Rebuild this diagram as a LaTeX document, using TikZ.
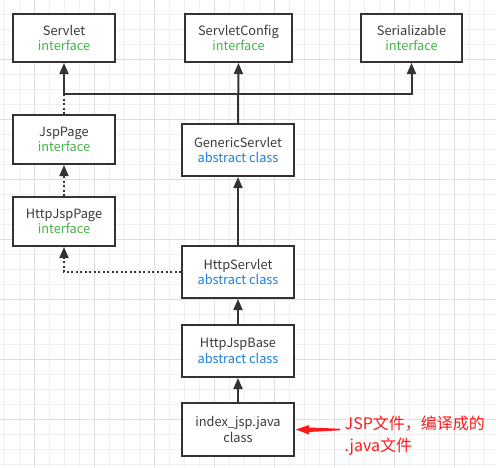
\documentclass[tikz,border=0pt]{standalone}
\usepackage{fontspec}
\setmainfont{Noto Sans CJK SC}
\usetikzlibrary{arrows.meta}
\definecolor{gridl}{HTML}{F0F0F0}
\definecolor{gridd}{HTML}{DEDEDE}
\definecolor{ifgreen}{HTML}{44B549}
\definecolor{abblue}{HTML}{1A7FE0}
\definecolor{boxline}{HTML}{333333}
\definecolor{txt}{HTML}{3A3A3A}
\definecolor{notered}{HTML}{FF1A1A}
\begin{document}
\begin{tikzpicture}[x=1pt,y=-1pt,
  box/.style={draw=boxline, line width=2pt, fill=white, align=center,
    font=\fontsize{12.8}{15.3}\selectfont, text=txt, inner sep=0pt},
  inh/.style={draw=boxline, line width=2pt, -{Triangle[length=11pt,width=9pt]}},
  dots/.style={draw=boxline, line width=2pt, dash pattern=on 2pt off 2.5pt},
  dotinh/.style={dots, -{Triangle[length=11pt,width=9pt]}},
]
\useasboundingbox (0,0) rectangle (496,467);
\fill[white] (0,0) rectangle (496,467);
% grid
\foreach \x in {4,19,...,496} \draw[gridl, line width=1pt] (\x,0) -- (\x,467);
\foreach \y in {14,29,...,467} \draw[gridl, line width=1pt] (0,\y) -- (496,\y);
\foreach \x in {34,94,...,496} \draw[gridd, line width=1pt] (\x,0) -- (\x,467);
\foreach \y in {59,119,...,467} \draw[gridd, line width=1pt] (0,\y) -- (496,\y);

% boxes
\node[box, minimum width=102pt, minimum height=48pt] (servlet) at (64,38)
  {Servlet\\\textcolor{ifgreen}{interface}};
\node[box, minimum width=107pt, minimum height=48pt] (config) at (238.5,38)
  {ServletConfig\\\textcolor{ifgreen}{interface}};
\node[box, minimum width=101pt, minimum height=48pt] (serial) at (411.5,38)
  {Serializable\\\textcolor{ifgreen}{interface}};
\node[box, minimum width=102pt, minimum height=49pt] (jsppage) at (64,139.5)
  {JspPage\\\textcolor{ifgreen}{interface}};
\node[box, minimum width=102pt, minimum height=49pt] (httpjsppage) at (64,221.5)
  {HttpJspPage\\\textcolor{ifgreen}{interface}};
\node[box, minimum width=112pt, minimum height=52pt] (generic) at (238,150)
  {GenericServlet\\\textcolor{abblue}{abstract class}};
\node[box, minimum width=112pt, minimum height=52pt] (httpservlet) at (238,272)
  {HttpServlet\\\textcolor{abblue}{abstract class}};
\node[box, minimum width=112pt, minimum height=52pt] (httpjspbase) at (238,351)
  {HttpJspBase\\\textcolor{abblue}{abstract class}};
\node[box, minimum width=112pt, minimum height=53pt] (index) at (238,429.5)
  {index\_jsp.java\\class};

% junction
\coordinate (j) at (238,94);
\coordinate (jl) at (64,94);

% connectors
\draw[inh] (generic.north) -- (config.south);
\draw[inh] (j) -| (servlet.south);
\draw[inh] (j) -| (serial.south);
\draw[dots] (jsppage.north) -- (jl);
\draw[dotinh] (httpjsppage.north) -- (jsppage.south);
\draw[dotinh] (httpservlet.west) -| (httpjsppage.south);
\draw[inh] (httpservlet.north) -- (generic.south);
\draw[inh] (httpjspbase.north) -- (httpservlet.south);
\draw[inh] (index.north) -- (httpjspbase.south);

% note
\node[anchor=base west, text=notered, align=left, inner sep=0pt,
  font=\fontsize{16}{21.7}\selectfont] (note) at (344.5,451)
  {JSP文件，编译成的\\.java文件};
\fill[notered] ([xshift=1pt]index.east) -- ++(13,-4.5) -- ++(0,2.5) -- ++(31,1.2)
  -- ++(0,1.6) -- ++(-31,1.7) -- ++(0,2.5) -- cycle;
\end{tikzpicture}
\end{document}
